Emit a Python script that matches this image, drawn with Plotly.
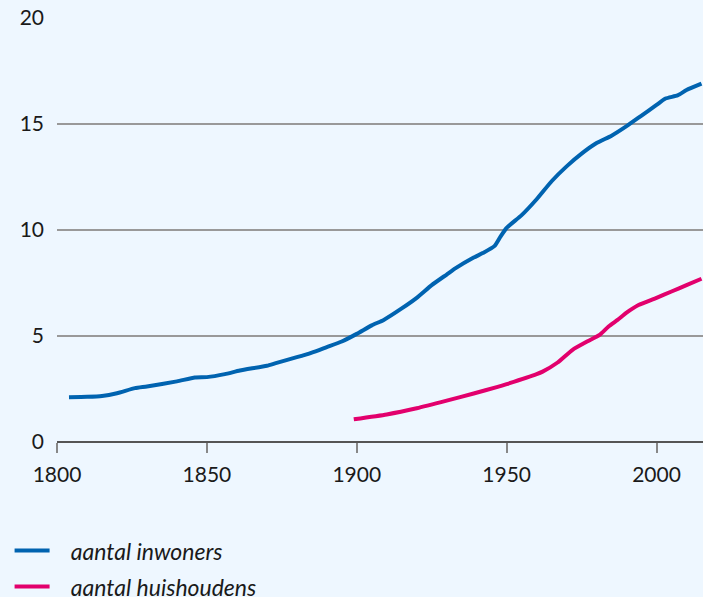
import plotly.graph_objects as go

# Data (millions)
inw_years = [1804, 1810, 1815, 1820, 1826, 1830, 1840, 1846, 1850, 1856, 1861, 1870, 1873,
             1880, 1885, 1890, 1895, 1900, 1905, 1909, 1915, 1920, 1925, 1930, 1933, 1939,
             1942, 1946, 1948, 1950, 1955, 1960, 1965, 1970, 1975, 1980, 1985, 1990, 1995,
             2000, 2003, 2007, 2010, 2015]
inw_vals = [2.11, 2.13, 2.17, 2.30, 2.54, 2.62, 2.86, 3.04, 3.06, 3.20, 3.37, 3.60, 3.72,
            4.00, 4.22, 4.48, 4.74, 5.10, 5.50, 5.76, 6.30, 6.80, 7.40, 7.90, 8.20, 8.70,
            8.91, 9.25, 9.70, 10.10, 10.70, 11.45, 12.30, 13.00, 13.60, 14.10, 14.45, 14.90,
            15.40, 15.90, 16.20, 16.35, 16.60, 16.90]

hh_years = [1899, 1910, 1920, 1930, 1939, 1947, 1950, 1960, 1962, 1967, 1972, 1977, 1981,
            1984, 1987, 1990, 1994, 2000, 2005, 2010, 2015]
hh_vals = [1.07, 1.30, 1.59, 1.95, 2.29, 2.60, 2.73, 3.20, 3.32, 3.75, 4.35, 4.75, 5.05,
           5.45, 5.76, 6.10, 6.46, 6.80, 7.10, 7.40, 7.70]

series_names = ["aantal inwoners", "aantal huishoudens"]

x_ticks = [1800, 1850, 1900, 1950, 2000]
y_ticks = [0, 5, 10, 15, 20]

BG = "#eef7ff"
FONT = "Lato"
PAD = "\u00a0\u00a0\u00a0"

fig = go.Figure()
fig.add_trace(go.Scatter(x=inw_years, y=inw_vals, mode="lines", name=PAD + series_names[0],
                         legendgroup="a", line=dict(color="#0063b0", width=4, shape="spline", smoothing=0.5)))
fig.add_trace(go.Scatter(x=hh_years, y=hh_vals, mode="lines", name=PAD + series_names[1],
                         legendgroup="b", line=dict(color="#e2006d", width=4, shape="spline", smoothing=0.5)))

fig.update_layout(
    width=703, height=597,
    margin=dict(l=57, r=0, t=18, b=155, autoexpand=False),
    paper_bgcolor=BG, plot_bgcolor=BG,
    font=dict(family=FONT, size=21, color="#1a1a1a"),
    showlegend=True,
    legend=dict(x=-0.0734, y=-0.2056, xanchor="left", yanchor="top",
                bgcolor="rgba(0,0,0,0)", tracegroupgap=3, itemwidth=35,
                font=dict(family=FONT, size=23, color="#1a1a1a", style="italic")),
    xaxis=dict(range=[1800, 2015.5], tickvals=x_ticks, ticktext=[str(t) for t in x_ticks],
               showgrid=False, zeroline=False, showline=False,
               ticks="outside", ticklen=10, tickcolor="#888", tickwidth=1.5,
               ticklabelstandoff=4),
    yaxis=dict(range=[0, 20], tickvals=y_ticks, ticktext=[str(t) for t in y_ticks],
               showgrid=True, gridcolor="#999999", gridwidth=1.5,
               zeroline=True, zerolinecolor="#555555", zerolinewidth=2,
               showline=False, ticks="", ticklabelstandoff=12),
)

fig.write_html("out.html")
